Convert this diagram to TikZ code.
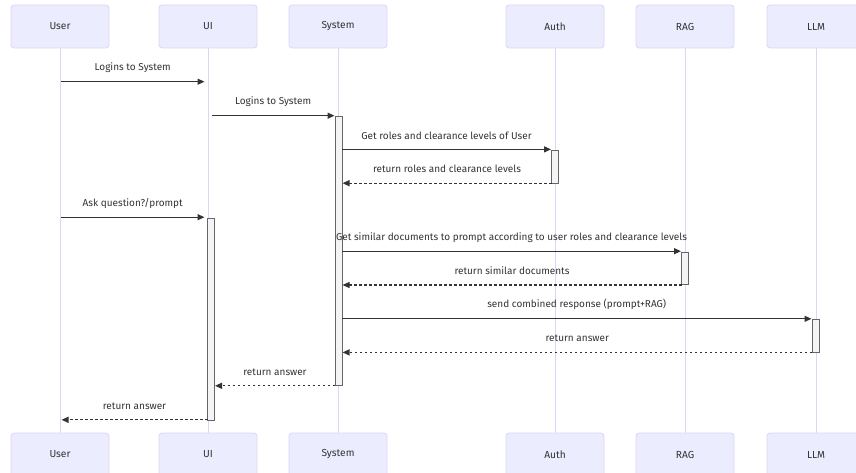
\documentclass[tikz,border=0pt]{standalone}
\usepackage{fontspec}
\setmainfont{Fira Sans}
\usetikzlibrary{arrows.meta}
\definecolor{actfill}{HTML}{ECECFF}
\definecolor{actline}{HTML}{DDD5F6}
\definecolor{lifecol}{HTML}{DDD5F6}
\definecolor{txt}{HTML}{333333}
\definecolor{actvfill}{HTML}{F4F4F4}
\definecolor{actvline}{HTML}{666666}
\tikzset{
  actor/.style={draw=actline, line width=0.8pt, fill=actfill, rounded corners=3pt,
    minimum width=98pt, minimum height=43pt, inner sep=0pt, text=txt,
    font=\fontsize{10.2}{12}\selectfont},
  life/.style={draw=lifecol, line width=1pt},
  activ/.style={draw=actvline, line width=0.7pt, fill=actvfill, inner sep=0pt, minimum width=7pt},
  msg/.style={draw=txt, line width=1.25pt, -{Triangle[length=7pt,width=6pt]}},
  ret/.style={msg, dash pattern=on 2.5pt off 2.5pt},
  lbl/.style={text=txt, inner sep=0pt, font=\fontsize{10}{12}\selectfont}
}
\begin{document}
\begin{tikzpicture}[x=1pt,y=-1pt]
\useasboundingbox (0,0) rectangle (856,473);
% actors top
\node[actor] (uT) at (60,26.5) {User};
\node[actor] (iT) at (208,26.5) {UI};
\node[actor] (sT) at (338,26.5) {System};
\node[actor] (aT) at (555,26.5) {Auth};
\node[actor] (rT) at (685,26.5) {RAG};
\node[actor] (lT) at (816,26.5) {LLM};
% actors bottom
\node[actor] (uB) at (60,454.5) {User};
\node[actor] (iB) at (208,454.5) {UI};
\node[actor] (sB) at (338,454.5) {System};
\node[actor] (aB) at (555,454.5) {Auth};
\node[actor] (rB) at (685,454.5) {RAG};
\node[actor] (lB) at (816,454.5) {LLM};
% lifelines
\foreach \a in {u,i,s,a,r,l} \draw[life] (\a T.south) -- (\a B.north);
% activations
\node[activ, minimum height=269pt] (actS) at (338.5,251.2) {};
\node[activ, minimum height=202pt] (actI) at (211.2,319.1) {};
\node[activ, minimum height=32.6pt] (actA) at (555,167) {};
\node[activ, minimum height=32.2pt] (actR) at (685,268.3) {};
\node[activ, minimum height=33pt] (actL) at (815.7,335.8) {};
% message end points
\coordinate (m1a) at (61,81.7);   \coordinate (m1b) at (204.5,81.7);
\coordinate (m2a) at (211.7,115.7); \coordinate (m2b) at (334.5,115.7);
\coordinate (m3a) at (342,149.4); \coordinate (m3b) at (551,149.4);
\coordinate (m4a) at (551.5,183.2); \coordinate (m4b) at (342.5,183.2);
\coordinate (m5a) at (61,217.2);  \coordinate (m5b) at (204.5,217.2);
\coordinate (m6a) at (342,251.2); \coordinate (m6b) at (681,251.2);
\coordinate (m7a) at (681.5,285); \coordinate (m7b) at (342.5,285);
\coordinate (m8a) at (342,318.8); \coordinate (m8b) at (811.5,318.8);
\coordinate (m9a) at (812,352.4); \coordinate (m9b) at (342.5,352.4);
\coordinate (m10a) at (335,385.8); \coordinate (m10b) at (215,385.8);
\coordinate (m11a) at (207.5,419.8); \coordinate (m11b) at (61.5,419.8);
% messages
\draw[msg] (m1a) -- (m1b) node[lbl, midway, yshift=14pt] {Logins to System};
\draw[msg] (m2a) -- (m2b) node[lbl, midway, yshift=14pt] {Logins to System};
\draw[msg] (m3a) -- (m3b) node[lbl, midway, yshift=14pt] {Get roles and clearance levels of User};
\draw[ret] (m4a) -- (m4b) node[lbl, midway, yshift=14pt] {return roles and clearance levels};
\draw[msg] (m5a) -- (m5b) node[lbl, midway, yshift=14pt] {Ask question?/prompt};
\draw[msg] (m6a) -- (m6b) node[lbl, midway, yshift=14pt] {Get similar documents to prompt according to user roles and clearance levels};
\draw[ret] (m7a) -- (m7b) node[lbl, midway, yshift=14pt] {return similar documents};
\draw[msg] (m8a) -- (m8b) node[lbl, midway, yshift=14pt] {send combined response (prompt+RAG)};
\draw[ret] (m9a) -- (m9b) node[lbl, midway, yshift=14pt] {return answer};
\draw[ret] (m10a) -- (m10b) node[lbl, midway, yshift=14pt] {return answer};
\draw[ret] (m11a) -- (m11b) node[lbl, midway, yshift=14pt] {return answer};
\end{tikzpicture}
\end{document}
